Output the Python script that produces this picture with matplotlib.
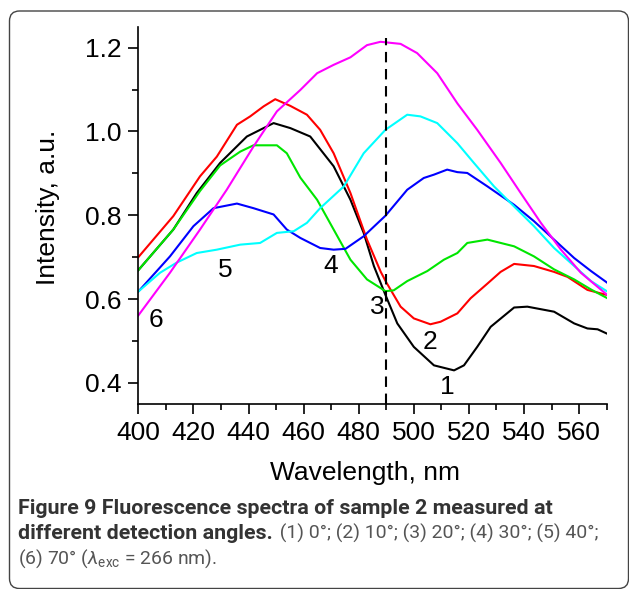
import matplotlib
matplotlib.use('Agg')
import matplotlib.pyplot as plt
from matplotlib.patches import FancyBboxPatch
from matplotlib.transforms import IdentityTransform
from matplotlib.ticker import MultipleLocator

# ---------------- data ----------------
wl_1 = [400, 412.7, 421.2, 429.7, 439.4, 449.1, 455.2, 462.4, 470.9, 477, 481.8, 485.5,
        489.7, 494, 500, 507.3, 514.6, 518.2, 523, 527.9, 536.4, 541.2, 550.9, 558.2,
        563, 566.7, 570]
int_1 = [0.669, 0.766, 0.853, 0.925, 0.988, 1.020, 1.008, 0.988, 0.917, 0.837, 0.758, 0.679,
         0.61, 0.542, 0.486, 0.442, 0.430, 0.442, 0.486, 0.534, 0.580, 0.582, 0.570, 0.542,
         0.53, 0.528, 0.518]

wl_2 = [400, 412.7, 422.4, 428.5, 435.8, 440.6, 445.5, 449.7, 455.2, 461.2, 466, 470.9,
        477, 483, 488, 490, 495.2, 500, 506, 509.7, 515.8, 520.6, 526.7, 531.5, 536.4,
        543.6, 550.9, 555.8, 563, 570]
int_2 = [0.70, 0.798, 0.893, 0.940, 1.016, 1.036, 1.06, 1.077, 1.061, 1.04, 1.004, 0.948,
         0.853, 0.742, 0.665, 0.64, 0.582, 0.554, 0.540, 0.546, 0.566, 0.602, 0.637, 0.665,
         0.684, 0.679, 0.665, 0.653, 0.622, 0.61]

wl_3 = [400, 412.7, 422.4, 429.7, 437, 441.8, 450.3, 453.9, 458.8, 464.9, 470.9, 477, 483,
        489.7, 492.7, 497.6, 504.9, 510.9, 515.8, 519.4, 526.7, 536.4, 543.6, 550.9, 558.2,
        564.3, 570]
int_3 = [0.669, 0.766, 0.858, 0.919, 0.952, 0.967, 0.967, 0.948, 0.89, 0.837, 0.766, 0.694,
         0.647, 0.619, 0.621, 0.643, 0.667, 0.694, 0.71, 0.734, 0.742, 0.726, 0.702, 0.671,
         0.647, 0.623, 0.603]

wl_4 = [400, 411.5, 420, 427.3, 435.8, 441.8, 449.1, 453.9, 458.8, 466, 470.9, 475.2, 481.8,
        489.7, 497.6, 503.6, 507.3, 512.1, 515.8, 519.4, 526.7, 536.4, 543.6, 550.9, 558.2,
        564.3, 570]
int_4 = [0.618, 0.702, 0.774, 0.817, 0.828, 0.817, 0.802, 0.766, 0.746, 0.722, 0.718, 0.72,
         0.75, 0.799, 0.861, 0.889, 0.897, 0.909, 0.903, 0.901, 0.869, 0.825, 0.786, 0.742,
         0.698, 0.667, 0.64]

wl_5 = [400, 407.9, 413.9, 421.2, 428.5, 437, 444.2, 450.3, 456.4, 461.2, 466, 474.6, 481.8,
        489.7, 497.6, 502.4, 508.5, 515.8, 521.8, 529.1, 536.4, 543.6, 550.9, 558.2, 564.3, 570]
int_5 = [0.618, 0.663, 0.687, 0.71, 0.718, 0.730, 0.734, 0.758, 0.762, 0.782, 0.817, 0.869,
         0.948, 1.004, 1.04, 1.036, 1.02, 0.972, 0.925, 0.869, 0.821, 0.774, 0.722, 0.679,
         0.643, 0.619]

wl_6 = [400, 411.5, 422.4, 432.1, 441.8, 450.3, 458.8, 464.9, 470.9, 477, 483, 487.9, 495.2,
        501.2, 508.5, 515.8, 523, 531.5, 538.8, 546.1, 553.4, 560.6, 570]
int_6 = [0.561, 0.663, 0.766, 0.861, 0.964, 1.048, 1.099, 1.139, 1.159, 1.177, 1.206, 1.214,
         1.209, 1.187, 1.139, 1.067, 1.004, 0.925, 0.853, 0.782, 0.718, 0.663, 0.611]

series = [(wl_1, int_1), (wl_2, int_2), (wl_3, int_3), (wl_4, int_4), (wl_5, int_5), (wl_6, int_6)]
curve_labels = ['1', '2', '3', '4', '5', '6']
label_x = [512.2, 506, 486.7, 469.7, 431.5, 406.4]
label_y = [0.39, 0.498, 0.582, 0.678, 0.67, 0.55]
colors = ['#000000', '#ff0000', '#00e600', '#0000ff', '#00ffff', '#ff00ff']

x_ticks = [400, 420, 440, 460, 480, 500, 520, 540, 560]
y_ticks = [0.4, 0.6, 0.8, 1.0, 1.2]
y_tick_labels = ['0.4', '0.6', '0.8', '1.0', '1.2']
dash_x = 490
dash_y = [0.35, 1.222]

caption_bold_1 = 'Figure 9 Fluorescence spectra of sample 2 measured at'
caption_bold_2 = 'different detection angles.'
caption_reg_2 = ' (1) 0°; (2) 10°; (3) 20°; (4) 30°; (5) 40°;'
caption_reg_3 = r'(6) 70° ($\lambda_{\mathrm{exc}}$ = 266 nm).'

# ---------------- style ----------------
CAP_FONT = 'Roboto'
plt.rcParams['font.family'] = ['Liberation Sans', 'DejaVu Sans']
plt.rcParams['mathtext.fontset'] = 'custom'
plt.rcParams['mathtext.rm'] = CAP_FONT
plt.rcParams['mathtext.it'] = CAP_FONT + ':italic'

W, H = 629, 589
fig = plt.figure(figsize=(W / 100, H / 100), dpi=100)
left_px, right_px, top_px, bottom_px = 138.3, 606.7, 26.7, 403.9
ax = fig.add_axes([left_px / W, 1 - bottom_px / H, (right_px - left_px) / W,
                   (bottom_px - top_px) / H])

for (xs, ys), c in zip(series, colors):
    ax.plot(xs, ys, color=c, lw=1.5, solid_joinstyle='round')

ax.plot([dash_x, dash_x], dash_y, color='black', lw=1.5, ls=(0, (5, 3.2)))

for t, lx, ly in zip(curve_labels, label_x, label_y):
    ax.text(lx, ly, t, fontsize=19, ha='center', va='center', color='black')

ax.set_xlim(400, 570)
ax.set_ylim(0.35, 1.25)
ax.set_xticks(x_ticks)
ax.set_yticks(y_ticks)
ax.set_yticklabels(y_tick_labels)
ax.xaxis.set_minor_locator(MultipleLocator(10))
ax.yaxis.set_minor_locator(MultipleLocator(0.1))
ax.tick_params(which='major', direction='out', length=7, width=1.2, labelsize=19, pad=5)
ax.tick_params(which='minor', direction='out', length=4, width=1.2)
for s in ['top', 'right']:
    ax.spines[s].set_visible(False)
for s in ['left', 'bottom']:
    ax.spines[s].set_linewidth(1.2)

ax.text((48 - left_px) / (right_px - left_px), 0.52, 'Intensity, a.u.', rotation=90,
        fontsize=19, ha='center', va='center', transform=ax.transAxes)
ax.text((365 - left_px) / (right_px - left_px), -(480 - bottom_px) / (bottom_px - top_px),
        'Wavelength, nm', fontsize=19, ha='center', va='baseline', transform=ax.transAxes)

# frame
frame = FancyBboxPatch((9.5, 0.5), 619, 577.5, boxstyle='round,pad=0,rounding_size=10',
                       transform=IdentityTransform(), facecolor='none', edgecolor='#444444',
                       lw=1.0)
fig.patches.append(frame)

# caption
bold_col = '#333333'
reg_col = '#555555'
x0 = 18 / W
t1 = fig.text(x0, 1 - 514 / H, caption_bold_1, fontsize=13, fontweight='bold',
              color=bold_col, family=CAP_FONT, va='baseline')
renderer = fig.canvas.get_renderer()
bold_size = 13 * 535 / t1.get_window_extent(renderer).width
reg_size = bold_size * 0.905
t1.set_fontsize(bold_size)
t2 = fig.text(x0, 1 - 539 / H, caption_bold_2, fontsize=bold_size, fontweight='bold',
              color=bold_col, family=CAP_FONT, va='baseline')
ax.annotate(caption_reg_2, xy=(1, 0), xycoords=t2, xytext=(2, 0),
            textcoords='offset pixels', fontsize=reg_size, color=reg_col,
            family=CAP_FONT, va='bottom', ha='left', annotation_clip=False)
fig.text(x0, 1 - 564 / H, caption_reg_3, fontsize=reg_size, color=reg_col, family=CAP_FONT,
         va='baseline')

fig.savefig('out.png', dpi=100)
